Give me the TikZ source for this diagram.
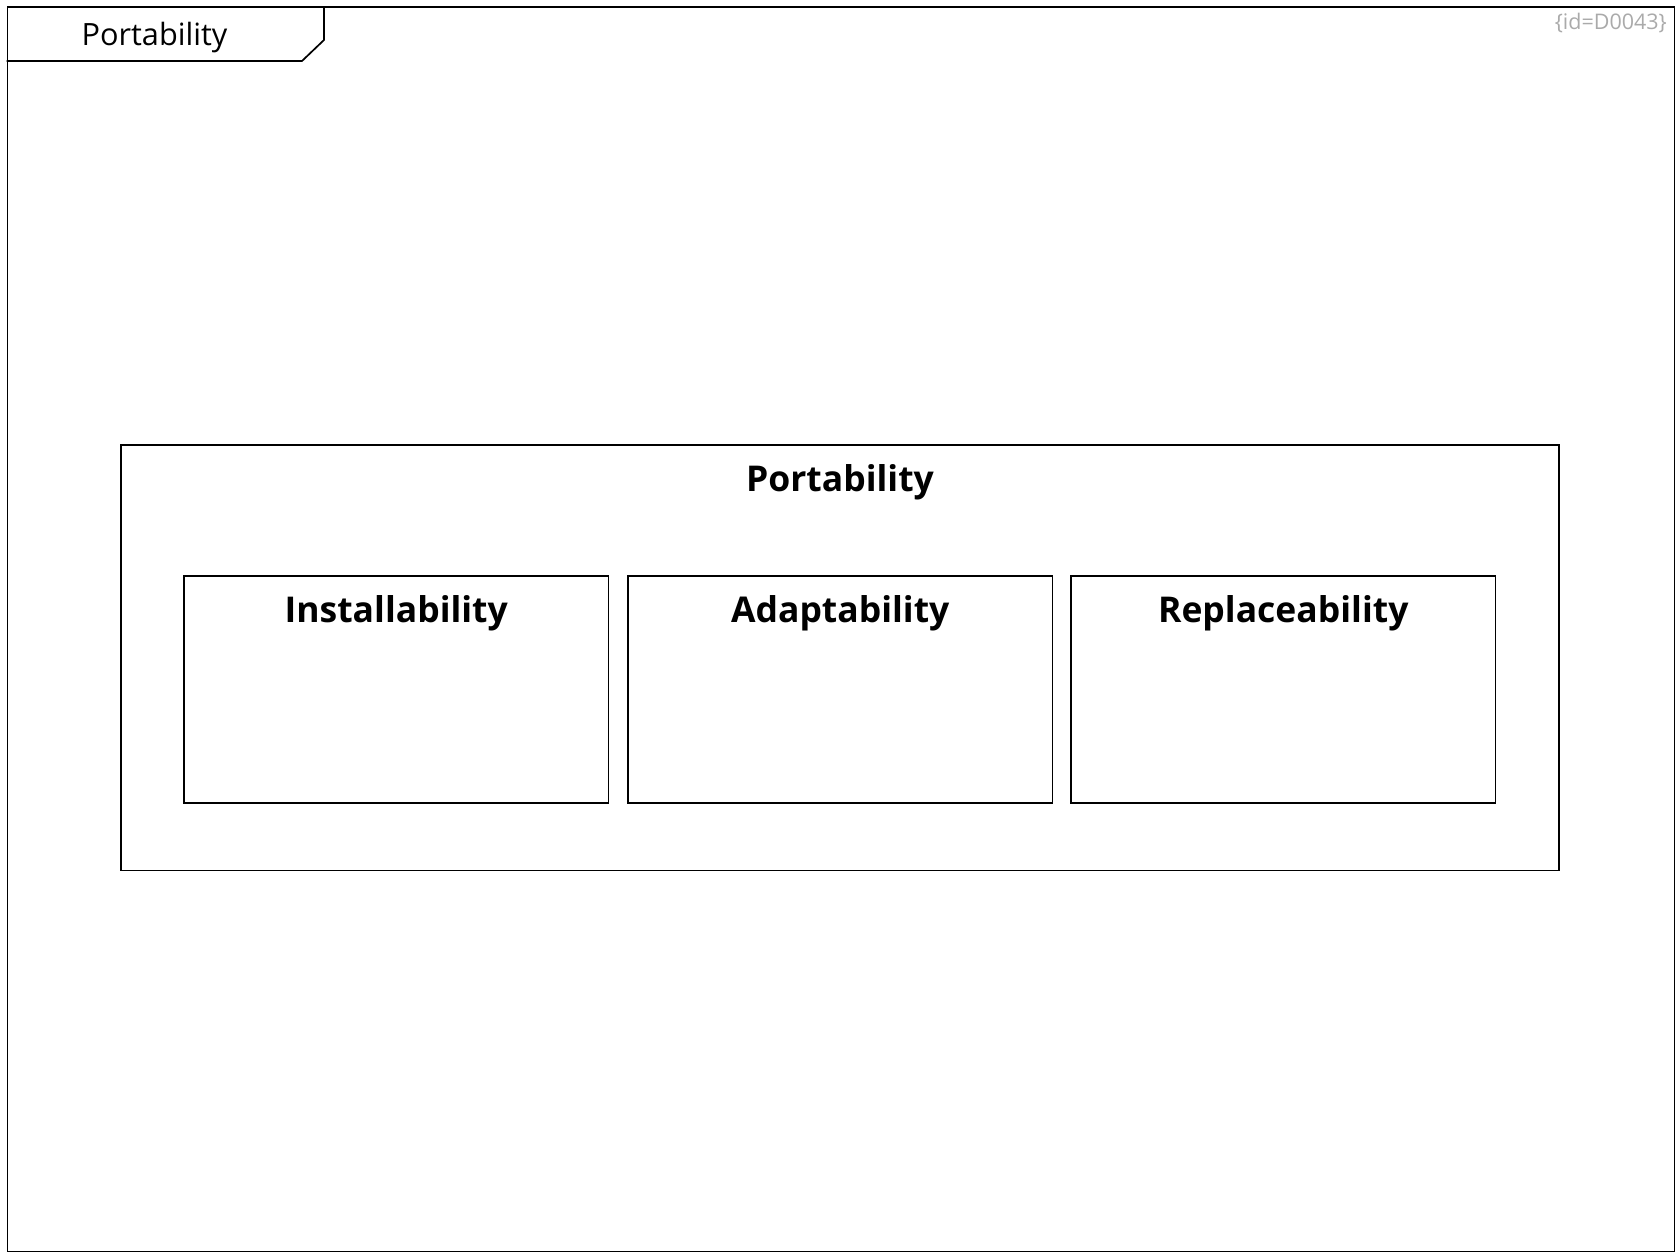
\documentclass[tikz,border=0pt]{standalone}
\usepackage{fontspec}
\setmainfont{Open Sans}
\definecolor{idgrey}{RGB}{170,170,170}
\begin{document}
\begin{tikzpicture}[x=1pt,y=-1pt,
  box/.style={draw=black,line width=1.6pt,minimum width=#1,anchor=north west,inner sep=0pt,outer sep=0pt},
  title/.style={anchor=base,inner sep=0pt,font=\fontsize{35.5}{42}\selectfont\bfseries},
  frameline/.style={draw=black,line width=1.7pt}]
\useasboundingbox (0,0) rectangle (1680,1260);
% frame
\node[frameline,anchor=north west,minimum width=1667pt,minimum height=1244pt,inner sep=0pt] (frame) at (6.5,6.5) {};
\coordinate (t1) at (6.5,61);
\coordinate (t2) at (302,61);
\coordinate (t3) at (324,40);
\coordinate (t4) at (324,6.5);
\draw[frameline,line join=miter] (t1) -- (t2) -- (t3) -- (t4);
\node[anchor=base,inner sep=0pt,font=\fontsize{30.7}{36}\selectfont] (tablabel) at (154.5,45.7) {Portability};
\node[anchor=base east,inner sep=0pt,text=idgrey,font=\fontsize{21.5}{26}\selectfont] (id) at (1667,30) {\{id=D0043\}};
% outer
\node[box=1438pt,minimum height=425.6pt] (outer) at (121,444.7) {};
\node[title] (outerlabel) at (840,491.7) {Portability};
% inner
\node[box=424.5pt,minimum height=227.3pt] (inst) at (184,575.7) {};
\node[box=424.5pt,minimum height=227.3pt] (adap) at (628,575.7) {};
\node[box=424.5pt,minimum height=227.3pt] (repl) at (1071,575.7) {};
\node[title] at ([yshift=-47pt]inst.north) {Installability};
\node[title] at ([yshift=-47pt]adap.north) {Adaptability};
\node[title] at ([yshift=-47pt]repl.north) {Replaceability};
\end{tikzpicture}
\end{document}
